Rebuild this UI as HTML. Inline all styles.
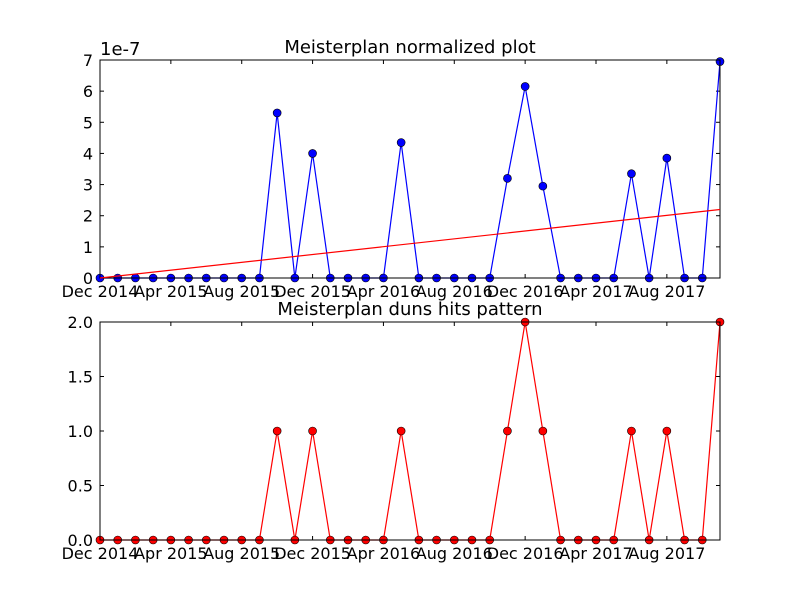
<!DOCTYPE html>
<html><head><meta charset="utf-8"><style>
body{margin:0;background:#fff;}
svg text{font-family:"DejaVu Sans","Liberation Sans",sans-serif;}
</style></head><body>
<svg id="c" width="800" height="600" xmlns="http://www.w3.org/2000/svg"></svg>
<script>
const months = 36;
const tickLabels = ["Dec 2014","Apr 2015","Aug 2015","Dec 2015","Apr 2016","Aug 2016","Dec 2016","Apr 2017","Aug 2017"];
const tickIdx = [0,4,8,12,16,20,24,28,32];
const normValues = [0,0,0,0,0,0,0,0,0,0,5.3,0,4.0,0,0,0,0,4.35,0,0,0,0,0,3.2,6.15,2.95,0,0,0,0,3.35,0,3.85,0,0,6.95];
const trendStart = 0.0, trendEnd = 2.2;
const hitValues = [0,0,0,0,0,0,0,0,0,0,1,0,1,0,0,0,0,1,0,0,0,0,0,1,2,1,0,0,0,0,1,0,1,0,0,2];
const topYTicks = [0,1,2,3,4,5,6,7];
const botYTicks = [0,0.5,1,1.5,2];

const svg=document.getElementById('c');
const NS='http://www.w3.org/2000/svg';
function el(t,a,p){const e=document.createElementNS(NS,t);for(const k in a)e.setAttribute(k,a[k]);(p||svg).appendChild(e);return e;}
const X0=100,X1=720;
const xs=i=>X0+(X1-X0)*i/(months-1);

function panel(top,bottom,ymax,yticks,fmt,vals,color,name,title){
  const g=el('g',{});
  
  
  const ys=v=>bottom-(bottom-top)*v/ymax;
  yticks.forEach(v=>{
    const y=ys(v);
    el('line',{x1:X0,x2:X0+4,y1:y,y2:y,stroke:'#000'},g);
    el('line',{x1:X1,x2:X1-4,y1:y,y2:y,stroke:'#000'},g);
    const t=el('text',{x:X0-7,y:y+6,'text-anchor':'end','font-size':'16'},g);t.textContent=fmt(v);
    
    
  });
  tickIdx.forEach((ix,k)=>{
    const x=xs(ix);
    el('line',{x1:x,x2:x,y1:bottom,y2:bottom-4,stroke:'#000'},g);
    el('line',{x1:x,x2:x,y1:top,y2:top+4,stroke:'#000'},g);
    const t=el('text',{x:x,y:bottom+19,'text-anchor':'middle','font-size':'16'},g);t.textContent=tickLabels[k];
    
    
  });
  const pts=vals.map((v,i)=>xs(i)+','+ys(v)).join(' ');
  const l=el('polyline',{points:pts,fill:'none',stroke:color,'stroke-width':1.2},g);
  
  
  vals.forEach((v,i)=>{
    const c=el('circle',{cx:xs(i),cy:ys(v),r:4,fill:color,stroke:'#000','stroke-width':0.6},g);
    
    
  });
  el('rect',{x:X0,y:top,width:X1-X0,height:bottom-top,fill:'none',stroke:'#000'},g);
  const tt=el('text',{x:(X0+X1)/2,y:top-7,'text-anchor':'middle','font-size':'18'},g);tt.textContent=title;
  
  
  return ys;
}
const ysTop=panel(60,278,7,topYTicks,v=>String(v),normValues,'#0000ff','normalized-plot','Meisterplan normalized plot');
const tr=el('line',{x1:xs(0),y1:ysTop(trendStart),x2:xs(months-1),y2:ysTop(trendEnd),stroke:'#ff0000','stroke-width':1.2});


const off=el('text',{x:100,y:55,'font-size':'18'});off.textContent='1e-7';


panel(322,540,2,botYTicks,v=>v.toFixed(1),hitValues,'#ff0000','duns-hits-plot','Meisterplan duns hits pattern');
</script>
</body></html>
